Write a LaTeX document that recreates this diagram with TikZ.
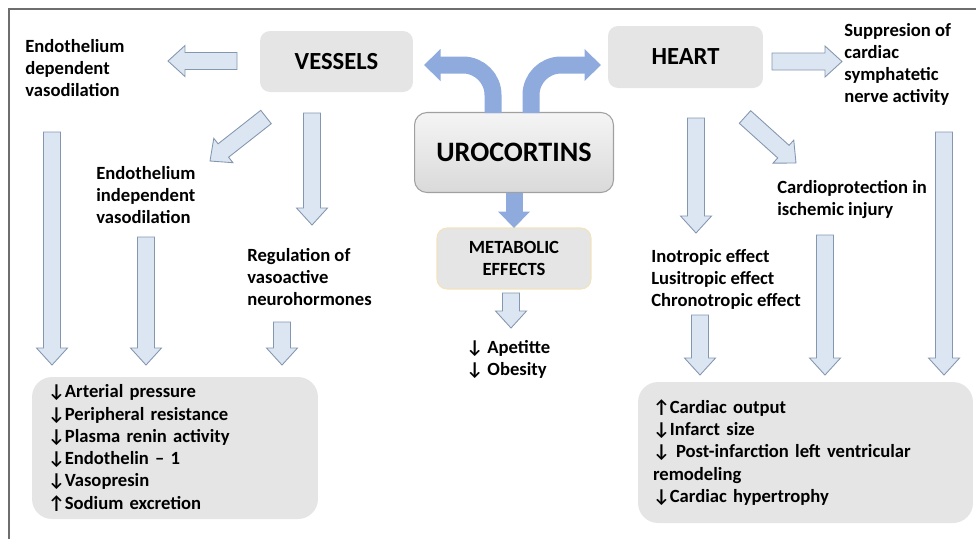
\documentclass[tikz,border=0pt]{standalone}
\usepackage{fontspec}
\setmainfont{Carlito}
\usepackage{tikz}
\usetikzlibrary{calc}
\usetikzlibrary{arrows.meta}
\definecolor{boxColor}{HTML}{E5E5E5}
\definecolor{arrowFillColor}{HTML}{DCE6F2}
\definecolor{arrowLineColor}{HTML}{8497B0}
\definecolor{mainArrowColor}{HTML}{8FAADC}
\definecolor{frameColor}{HTML}{6E6E6E}
\definecolor{uroLineColor}{HTML}{A0A0A0}
\definecolor{metaLineColor}{HTML}{F2E3BD}
\newcommand{\arrDown}{↓}
\newcommand{\arrUp}{↑}
\newcommand{\fatArrow}[2]{%
  \coordinate (hb) at ($(#2)!0.34cm!(#1)$);
  \draw[lightArrow] ($(#1)!0.17cm!90:(#2)$) -- ($(hb)!0.17cm!-90:(#1)$) -- ($(hb)!0.31cm!-90:(#1)$) -- (#2)
    -- ($(hb)!0.31cm!90:(#1)$) -- ($(hb)!0.17cm!90:(#1)$) -- ($(#1)!0.17cm!-90:(#2)$) -- cycle;
}
\tikzset{
  txt/.style={font=\bfseries\fontsize{10.6}{12.4}\selectfont, align=left, inner sep=0pt, anchor=base west},
  titleBox/.style={fill=boxColor, rounded corners=0.2cm, font=\bfseries\fontsize{14}{16}\selectfont},
  uroBox/.style={draw=uroLineColor, line width=0.6pt, top color=white!60!boxColor, bottom color=boxColor!95!black,
    rounded corners=0.25cm, font=\bfseries\fontsize{16}{18}\selectfont},
  metaBox/.style={fill=boxColor, draw=metaLineColor, line width=0.6pt, rounded corners=0.2cm, align=center,
    font=\bfseries\fontsize{10.6}{12.5}\selectfont},
  listBox/.style={fill=boxColor, rounded corners=0.4cm, align=left, inner ysep=0pt,
    font=\bfseries\fontsize{10.6}{12.65}\selectfont},
  lightArrow/.style={fill=arrowFillColor, draw=arrowLineColor, line width=0.5pt},
  mainArrow/.style={draw=mainArrowColor, line width=0.34cm, rounded corners=0.6cm,
    -{Triangle[length=0.33cm,width=0.62cm]}}
}

\begin{document}
\begin{tikzpicture}[x=0.02cm, y=-0.02cm]
      \useasboundingbox (0,0) rectangle (976,539);
      \draw[frameColor, line width=0.7pt] (976,9) -- (9,9) -- (9,539);

      \node[titleBox, minimum width=3.06cm, minimum height=1.22cm] (vessels) at (336.5,61.5) {VESSELS};
      \node[titleBox, minimum width=3.1cm, minimum height=1.24cm] (heart) at (685.5,57) {HEART};
      \node[uroBox, minimum width=3.98cm, minimum height=1.6cm] (uro) at (514,152.5) {UROCORTINS};
      \node[metaBox, minimum width=3.08cm, minimum height=1.22cm] (meta) at (514,258.5) {METABOLIC\\EFFECTS};

      \node[txt] (dep) at (25,96) {Endothelium\\dependent\\vasodilation};
      \node[txt] (indep) at (96,223) {Endothelium\\independent\\vasodilation};
      \node[txt] (reg) at (247,305) {Regulation of\\vasoactive\\neurohormones};
      \node[txt] (supp) at (844,102) {Suppresion of\\cardiac\\symphatetic\\nerve activity};
      \node[txt] (cardio) at (777,215) {Cardioprotection in\\ischemic injury};
      \node[txt] (ino) at (651,306) {Inotropic effect\\Lusitropic effect\\Chronotropic effect};
      \node[txt] (appet) at (466,375) {\arrDown{} Apetitte\\\arrDown{} Obesity};

      \node[listBox, minimum width=5.72cm, minimum height=2.84cm, text width=5.08cm, inner xsep=0.32cm] (lbox) at (175,448)
        {\arrDown{}Arterial pressure\\\arrDown{}Peripheral resistance\\\arrDown{}Plasma renin activity\\
         \arrDown{}Endothelin -- 1\\\arrDown{}Vasopresin\\\arrUp{}Sodium excretion};
      \node[listBox, minimum width=6.7cm, minimum height=2.82cm, text width=6.1cm, inner xsep=0.3cm] (rbox) at (805.5,452.5)
        {\arrUp{}Cardiac output\\\arrDown{}Infarct size\\\arrDown{} Post-infarction left ventricular\\
         remodeling\\\arrDown{}Cardiac hypertrophy};

      \coordinate (uroL) at (493,113);
      \coordinate (uroR) at (531,113);
      \coordinate (vesTip) at (424,65);
      \coordinate (heartTip) at (601,65);
      \coordinate (uroB) at (514,193);
      \coordinate (metaTip) at (514,228);
      \draw[mainArrow] (uroL) |- (vesTip);
      \draw[mainArrow] (uroR) |- (heartTip);
      \draw[mainArrow, rounded corners=0pt] (uroB) -- (metaTip);

      \coordinate (vd1) at (237,61);  \coordinate (vd2) at (168,61);
      \coordinate (vi1) at (266,117); \coordinate (vi2) at (210,161);
      \coordinate (vr1) at (312,113); \coordinate (vr2) at (312,225);
      \coordinate (dl1) at (52,132);  \coordinate (dl2) at (52,365);
      \coordinate (il1) at (146,237); \coordinate (il2) at (146,365);
      \coordinate (rl1) at (282,322); \coordinate (rl2) at (282,365);
      \coordinate (hs1) at (772,61.5); \coordinate (hs2) at (842,61.5);
      \coordinate (hi1) at (696,118); \coordinate (hi2) at (696,233);
      \coordinate (hc1) at (745,117); \coordinate (hc2) at (796,163);
      \coordinate (il3) at (700,315); \coordinate (il4) at (700,375);
      \coordinate (cl1) at (825,235); \coordinate (cl2) at (825,375);
      \coordinate (sl1) at (944,132); \coordinate (sl2) at (944,375);
      \coordinate (ml1) at (511,293); \coordinate (ml2) at (511,328);

      \fatArrow{vd1}{vd2}
      \fatArrow{vi1}{vi2}
      \fatArrow{vr1}{vr2}
      \fatArrow{dl1}{dl2}
      \fatArrow{il1}{il2}
      \fatArrow{rl1}{rl2}
      \fatArrow{hs1}{hs2}
      \fatArrow{hi1}{hi2}
      \fatArrow{hc1}{hc2}
      \fatArrow{il3}{il4}
      \fatArrow{cl1}{cl2}
      \fatArrow{sl1}{sl2}
      \fatArrow{ml1}{ml2}
    \end{tikzpicture}
\end{document}
